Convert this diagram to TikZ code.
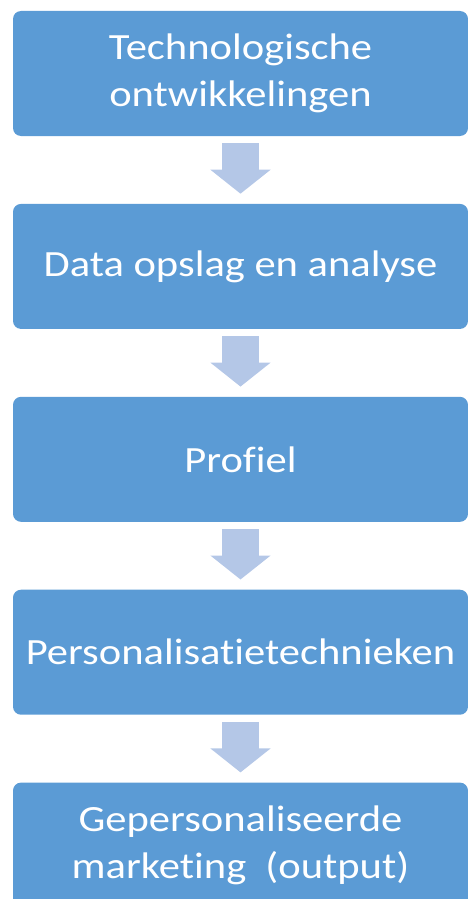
\documentclass[tikz,border=0pt]{standalone}
\usepackage{fontspec}
\setmainfont{Carlito}[FakeStretch=1.15,Ligatures={NoCommon}]
\usepackage{tikz}
\definecolor{boxBlue}{HTML}{5B9BD5}
\definecolor{arrowBlue}{HTML}{B4C7E7}
\usetikzlibrary{positioning}
\usetikzlibrary{arrows.meta}

\tikzset{
    stage/.style={fill=boxBlue, text=white, rounded corners=8pt, minimum width=455pt,
                  minimum height=125pt, align=center, inner sep=0pt,
                  font=\fontsize{37}{47}\selectfont},
    flow/.style={draw=arrowBlue, line width=37pt, shorten <=7pt, shorten >=10pt,
                 -{Triangle[width=59pt,length=24pt]}}
}

\begin{document}
\begin{tikzpicture}[x=1pt,y=1pt,node distance=67.5pt]
        \useasboundingbox (0,0) rectangle (468,-899);
        \clip (0,0) rectangle (468,-899);

        \node[stage] (tech) at (240.5,-73.5) {Technologische\\ontwikkelingen};
        \node[stage, below=of tech] (data) {Data opslag en analyse};
        \node[stage, below=of data] (profiel) {Profiel};
        \node[stage, below=of profiel] (pers) {Personalisatietechnieken};
        \node[stage, below=of pers] (output) {Gepersonaliseerde\\marketing\ \ (output)};

        \draw[flow] (tech) -- (data);
        \draw[flow] (data) -- (profiel);
        \draw[flow] (profiel) -- (pers);
        \draw[flow] (pers) -- (output);
    \end{tikzpicture}
\end{document}
